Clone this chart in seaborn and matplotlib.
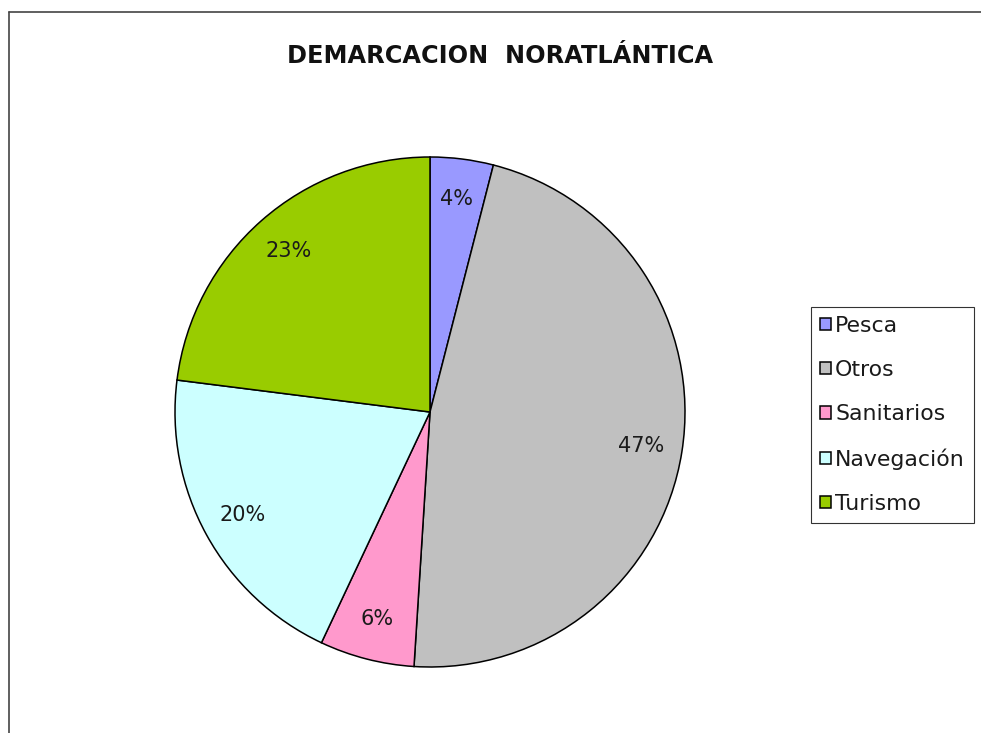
import matplotlib
matplotlib.use("Agg")
import matplotlib.pyplot as plt
from matplotlib.lines import Line2D
import seaborn as sns

sns.set_style("white")
plt.rcParams['font.family'] = ['DejaVu Sans']

# data
categories = ['Pesca', 'Otros', 'Sanitarios', 'Navegación', 'Turismo']
shares = [4, 47, 6, 20, 23]
colors = ['#9999FF', '#C0C0C0', '#FF99CC', '#CCFFFF', '#99CC00']

W, H = 981, 733
fig = plt.figure(figsize=(W / 100, H / 100), dpi=100)

# pie centre ~ (430, 412) px, radius ~ 255 px
cx, cy, r = 430, 412, 255
ax = fig.add_axes([(cx - r) / W, (H - cy - r) / H, 2 * r / W, 2 * r / H])
wedges, texts, autotexts = ax.pie(
    shares, colors=colors, startangle=90, counterclock=False,
    autopct='%1.0f%%', pctdistance=0.84,
    wedgeprops=dict(edgecolor='black', linewidth=1.1),
    textprops=dict(fontsize=15, color='#1a1a1a'))
ax.set_xlim(-1, 1)
ax.set_ylim(-1, 1)
ax.set_aspect('equal')
ax.axis('off')

fig.text(500 / W, 1 - 56 / H, 'DEMARCACION  NORATLÁNTICA', ha='center', va='center',
         fontsize=17.3, fontweight='bold', color='#111111')

leg = fig.legend(wedges, categories, loc='upper left',
                 bbox_to_anchor=(811 / W, 1 - 307 / H),
                 frameon=True, fancybox=False, shadow=False, edgecolor='black',
                 fontsize=15.8, handlelength=0.5, handleheight=0.5, handletextpad=0.2,
                 labelspacing=1.1, borderpad=0.4, borderaxespad=0)
leg.get_frame().set_linewidth(0.8)
for t in leg.get_texts():
    t.set_color('#1a1a1a')

# outer frame (only left and top edges are visible in the crop)
fig.add_artist(Line2D([8.5 / W, 8.5 / W], [0, 1 - 11.5 / H], color='#444444', lw=1.2))
fig.add_artist(Line2D([8.5 / W, 1], [1 - 11.5 / H, 1 - 11.5 / H], color='#444444', lw=1.2))

fig.savefig('out.png', dpi=100)
